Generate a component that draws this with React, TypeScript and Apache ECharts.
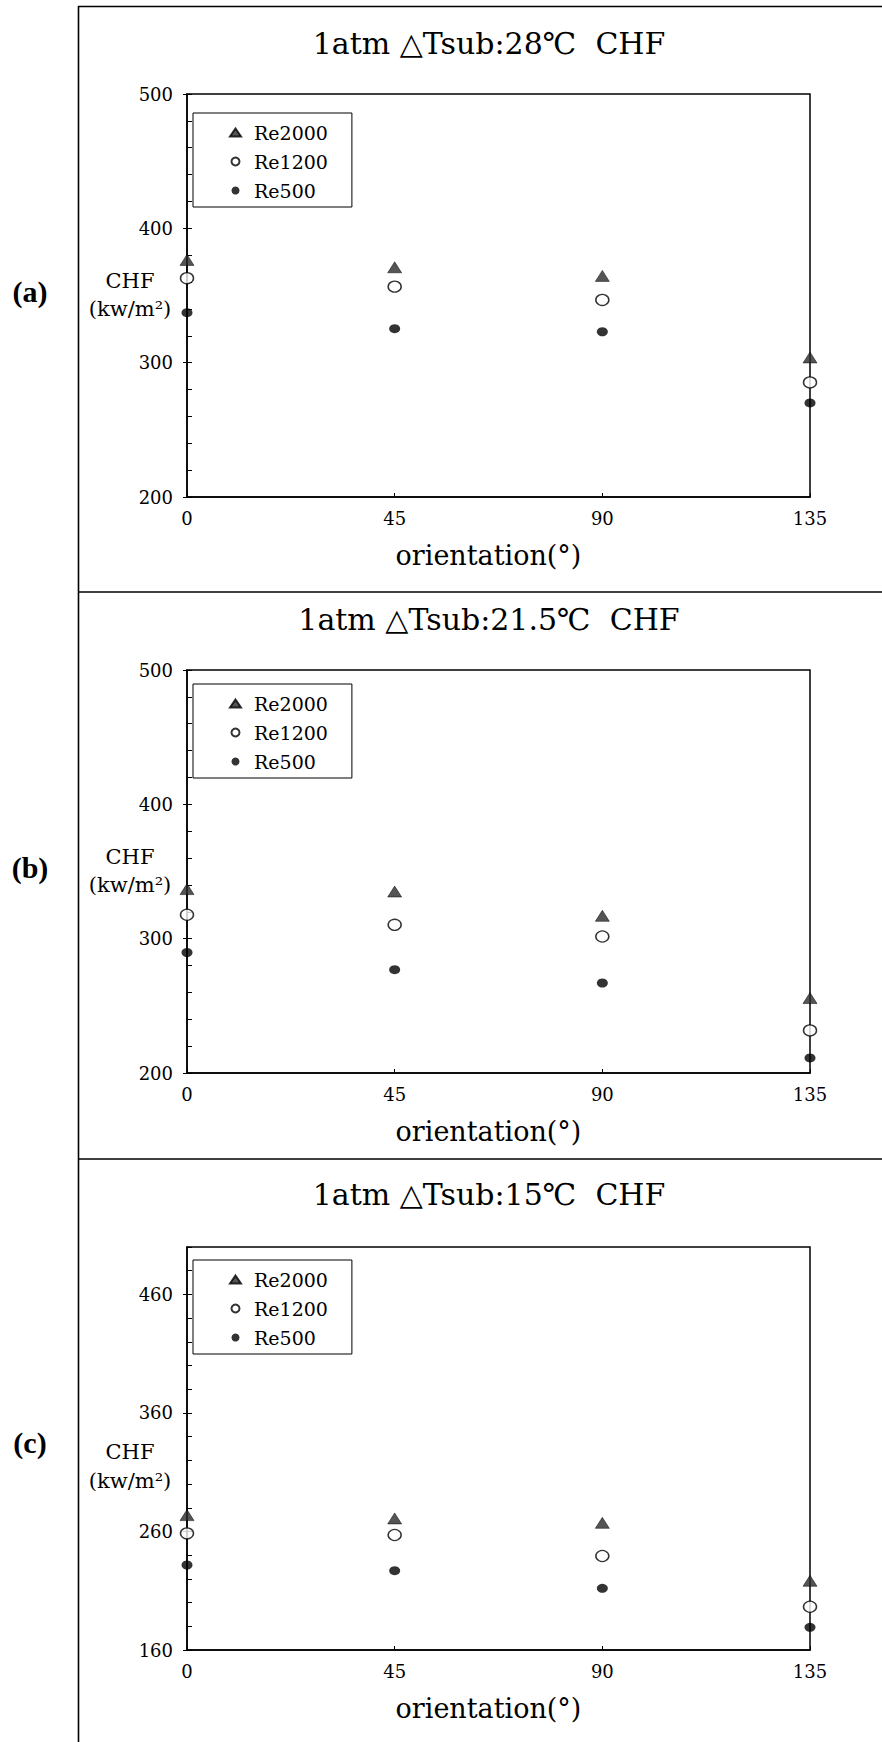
import React, { useEffect, useRef } from 'react';
import * as echarts from 'echarts';

// ---------- data ----------
const orientations = [0, 45, 90, 135];
const seriesNames = ['Re2000', 'Re1200', 'Re500'];
const panelLabels = ['(a)', '(b)', '(c)'];
const panelTitles = ['1atm △Tsub:28℃  CHF', '1atm △Tsub:21.5℃  CHF', '1atm △Tsub:15℃  CHF'];
const xAxisName = 'orientation(°)';
const yAxisNameLines = ['CHF', '(kw/m²)'];

// panel (a) ΔTsub 28℃
const re2000A = [376.5, 371, 364.6, 303.9];
const re1200A = [362.9, 356.6, 346.7, 285.3];
const re500A = [337.2, 325.3, 323, 270];
// panel (b) ΔTsub 21.5℃
const re2000B = [336.9, 335.1, 317, 255.8];
const re1200B = [317.8, 310.3, 301.6, 231.7];
const re500B = [289.7, 276.9, 267, 211.2];
// panel (c) ΔTsub 15℃
const re2000C = [273.8, 271, 267.3, 218.4];
const re1200C = [258.4, 257, 239.3, 196.5];
const re500C = [231.7, 226.9, 212, 179.1];

const panelValues = [
  [re2000A, re1200A, re500A],
  [re2000B, re1200B, re500B],
  [re2000C, re1200C, re500C],
];
const yMins = [200, 200, 160];
const yMax = 500;
const yMajorStep = 100;
const yMinorStep = 20;
const xMin = 0;
const xMax = 135;
const xStep = 45;

// ---------- layout & style ----------
const W = 882;
const H = 1742;
const FONT = 'DejaVu Serif';
const TICK_FONT = 18;
const GRID_LEFT = 187;
const GRID_WIDTH = 623;
const GRID_HEIGHT = 403;
const gridTops = [94, 670, 1247];
const titleYs = [43, 619, 1194];
const labelYs = [291, 867, 1442];
const labelX = 30;
const legendTops = [113, 684, 1260];
const yNameYs = [[281, 309], [857, 885], [1452, 1481]];
const yNameX = 130;
const separatorYs = [6.5, 592, 1159];

const symbolStyles: any[] = [
  { symbol: 'triangle', symbolSize: [14, 11], itemStyle: { color: '#2a2a2a', borderColor: '#000', borderWidth: 0.6 } },
  { symbol: 'circle', symbolSize: [13, 11], itemStyle: { color: '#ffffff', borderColor: '#000', borderWidth: 1.4 } },
  { symbol: 'circle', symbolSize: [11, 9], itemStyle: { color: '#000000' } },
];

const tickRich = { t: { fontFamily: FONT, fontSize: TICK_FONT, color: '#000' } };

function buildOption(): any {
  const grid: any[] = [];
  const xAxis: any[] = [];
  const yAxis: any[] = [];
  const series: any[] = [];
  const legend: any[] = [];
  const graphic: any[] = [];

  panelTitles.forEach((title, i) => {
    grid.push({
      left: GRID_LEFT,
      top: gridTops[i],
      width: GRID_WIDTH,
      height: GRID_HEIGHT,
      show: true,
      borderColor: '#000',
      borderWidth: 1.5,
      backgroundColor: 'transparent',
    });
    xAxis.push({
      gridIndex: i,
      type: 'value',
      min: xMin,
      max: xMax,
      interval: xStep,
      axisLine: { show: true, onZero: false, lineStyle: { color: '#000', width: 1.5 } },
      axisTick: { show: true, inside: true, length: 4, lineStyle: { color: '#000', width: 1 } },
      axisLabel: {
        color: '#000',
        fontFamily: FONT,
        fontSize: TICK_FONT,
        margin: 12,
        formatter: '{t|{value}}',
        rich: tickRich,
      },
      splitLine: { show: false },
      name: xAxisName,
      nameLocation: 'middle',
      nameGap: 45,
      nameTextStyle: { color: '#000', fontFamily: FONT, fontSize: 27, padding: [0, 20, 0, 0] },
    });
    yAxis.push({
      gridIndex: i,
      type: 'value',
      position: 'left',
      min: yMins[i],
      max: yMax,
      interval: yMajorStep,
      axisLine: { show: true, onZero: false, lineStyle: { color: '#000', width: 1.5 } },
      axisTick: { show: true, inside: false, length: 4, lineStyle: { color: '#000', width: 1 } },
      axisLabel: {
        color: '#000',
        fontFamily: FONT,
        fontSize: TICK_FONT,
        margin: 14,
        showMaxLabel: i === 2 ? false : true,
        formatter: '{t|{value}}',
        rich: tickRich,
      },
      splitLine: { show: false },
    });
    yAxis.push({
      gridIndex: i,
      type: 'value',
      position: 'left',
      min: yMins[i],
      max: yMax,
      interval: yMinorStep,
      axisLine: { show: false },
      axisTick: { show: true, inside: true, length: 5, lineStyle: { color: '#000', width: 1 } },
      axisLabel: { show: false },
      splitLine: { show: false },
    });
    seriesNames.forEach((name, k) => {
      series.push({
        type: 'scatter',
        name,
        xAxisIndex: i,
        yAxisIndex: 2 * i,
        clip: false,
        symbol: symbolStyles[k].symbol,
        symbolSize: symbolStyles[k].symbolSize,
        itemStyle: symbolStyles[k].itemStyle,
        data: orientations.map((x, j) => [x, panelValues[i][k][j]]),
        z: 5,
      });
    });
    legend.push({
      data: seriesNames,
      orient: 'vertical',
      left: 193,
      top: legendTops[i],
      itemWidth: 11,
      itemHeight: 8,
      itemGap: 10,
      symbolKeepAspect: false,
      selectedMode: false,
      backgroundColor: '#fff',
      borderColor: '#000',
      borderWidth: 1,
      borderRadius: 0,
      padding: [10, 24, 7, 36],
      textStyle: { color: '#000', fontFamily: FONT, fontSize: 19, padding: [0, 0, 0, 8] },
    });
    graphic.push({
      type: 'text',
      x: 489,
      y: titleYs[i],
      style: { text: title, fill: '#000', fontFamily: FONT, fontSize: 30, align: 'center', verticalAlign: 'middle' },
    });
    graphic.push({
      type: 'text',
      x: labelX,
      y: labelYs[i],
      style: {
        text: panelLabels[i],
        fill: '#000',
        fontFamily: 'Liberation Serif',
        fontWeight: 'bold',
        fontSize: 30,
        align: 'center',
        verticalAlign: 'middle',
      },
    });
    yAxisNameLines.forEach((line, k) => {
      graphic.push({
        type: 'text',
        x: yNameX,
        y: yNameYs[i][k],
        style: { text: line, fill: '#000', fontFamily: FONT, fontSize: 21, align: 'center', verticalAlign: 'middle' },
      });
    });
    graphic.push({
      type: 'line',
      shape: { x1: 78, y1: separatorYs[i], x2: W, y2: separatorYs[i] },
      style: { stroke: '#000', lineWidth: 1.6 },
    });
  });

  graphic.push({
    type: 'line',
    shape: { x1: 78.5, y1: 6, x2: 78.5, y2: H },
    style: { stroke: '#000', lineWidth: 1.6 },
  });

  return {
    animation: false,
    backgroundColor: '#ffffff',
    textStyle: { fontFamily: FONT, fontSize: TICK_FONT, color: '#000' },
    grid,
    xAxis,
    yAxis,
    series,
    legend,
    graphic,
  };
}

export default function App() {
  const ref = useRef<HTMLDivElement>(null);
  useEffect(() => {
    if (!ref.current) return;
    const chart = echarts.init(ref.current, null, { renderer: 'svg', width: W, height: H });
    chart.setOption(buildOption());
    return () => {
      chart.dispose();
    };
  }, []);
  return (
    <div
      ref={ref}
      style={{ position: 'absolute', left: 0, top: 0, width: W, height: H, background: '#fff' }}
    />
  );
}
